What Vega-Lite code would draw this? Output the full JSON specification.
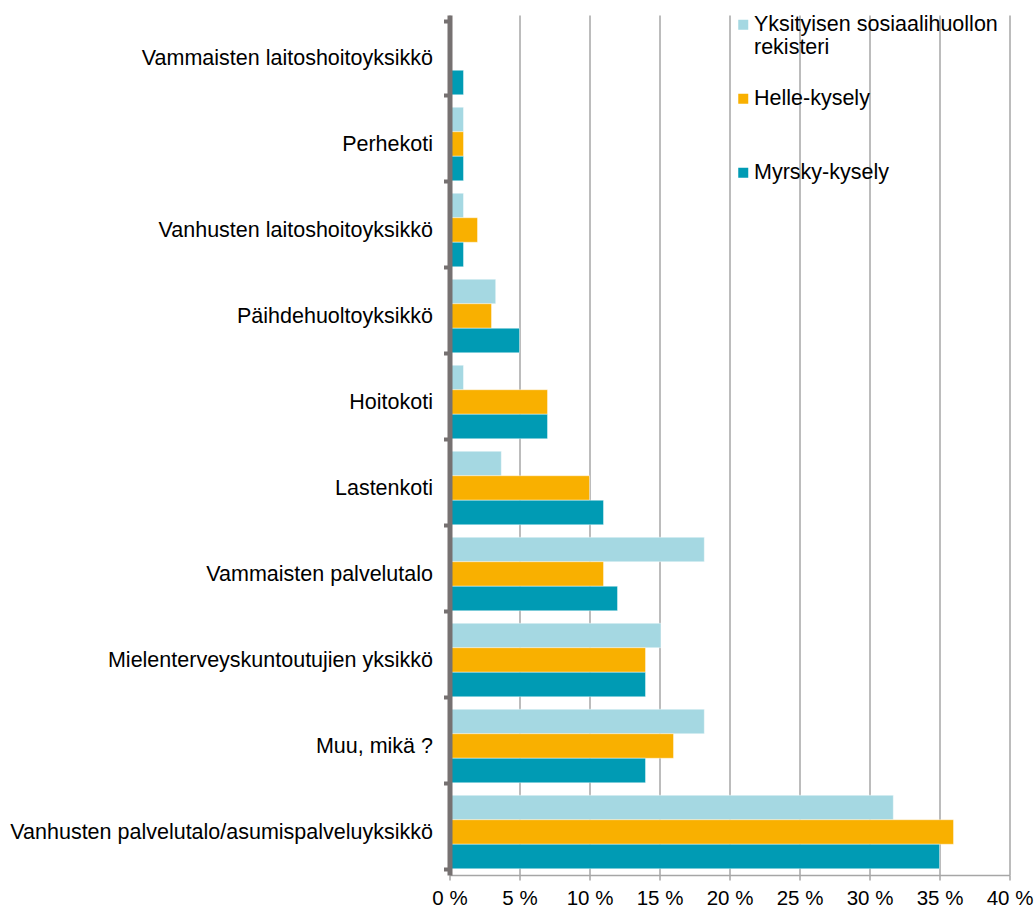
{
  "$schema": "https://vega.github.io/schema/vega-lite/v6.json",
  "autosize": {"type": "none"},
  "padding": {"left": 449.5, "top": 15, "right": 24.5, "bottom": 34},
  "width": 560,
  "height": 860,
  "config": {
    "view": {"stroke": null},
    "font": "Liberation Sans",
    "axis": {"labelFont": "Liberation Sans", "labelColor": "#000000"},
    "legend": {"labelFont": "Liberation Sans"}
  },
  "data": {
    "values": [
      {"yksikko": "Vammaisten laitoshoitoyksikkö", "lahde": "Yksityisen sosiaalihuollon rekisteri", "osuus": 0},
      {"yksikko": "Vammaisten laitoshoitoyksikkö", "lahde": "Helle-kysely", "osuus": 0},
      {"yksikko": "Vammaisten laitoshoitoyksikkö", "lahde": "Myrsky-kysely", "osuus": 1},
      {"yksikko": "Perhekoti", "lahde": "Yksityisen sosiaalihuollon rekisteri", "osuus": 1},
      {"yksikko": "Perhekoti", "lahde": "Helle-kysely", "osuus": 1},
      {"yksikko": "Perhekoti", "lahde": "Myrsky-kysely", "osuus": 1},
      {"yksikko": "Vanhusten laitoshoitoyksikkö", "lahde": "Yksityisen sosiaalihuollon rekisteri", "osuus": 1},
      {"yksikko": "Vanhusten laitoshoitoyksikkö", "lahde": "Helle-kysely", "osuus": 2},
      {"yksikko": "Vanhusten laitoshoitoyksikkö", "lahde": "Myrsky-kysely", "osuus": 1},
      {"yksikko": "Päihdehuoltoyksikkö", "lahde": "Yksityisen sosiaalihuollon rekisteri", "osuus": 3.3},
      {"yksikko": "Päihdehuoltoyksikkö", "lahde": "Helle-kysely", "osuus": 3},
      {"yksikko": "Päihdehuoltoyksikkö", "lahde": "Myrsky-kysely", "osuus": 5},
      {"yksikko": "Hoitokoti", "lahde": "Yksityisen sosiaalihuollon rekisteri", "osuus": 1},
      {"yksikko": "Hoitokoti", "lahde": "Helle-kysely", "osuus": 7},
      {"yksikko": "Hoitokoti", "lahde": "Myrsky-kysely", "osuus": 7},
      {"yksikko": "Lastenkoti", "lahde": "Yksityisen sosiaalihuollon rekisteri", "osuus": 3.7},
      {"yksikko": "Lastenkoti", "lahde": "Helle-kysely", "osuus": 10},
      {"yksikko": "Lastenkoti", "lahde": "Myrsky-kysely", "osuus": 11},
      {"yksikko": "Vammaisten palvelutalo", "lahde": "Yksityisen sosiaalihuollon rekisteri", "osuus": 18.2},
      {"yksikko": "Vammaisten palvelutalo", "lahde": "Helle-kysely", "osuus": 11},
      {"yksikko": "Vammaisten palvelutalo", "lahde": "Myrsky-kysely", "osuus": 12},
      {"yksikko": "Mielenterveyskuntoutujien yksikkö", "lahde": "Yksityisen sosiaalihuollon rekisteri", "osuus": 15.1},
      {"yksikko": "Mielenterveyskuntoutujien yksikkö", "lahde": "Helle-kysely", "osuus": 14},
      {"yksikko": "Mielenterveyskuntoutujien yksikkö", "lahde": "Myrsky-kysely", "osuus": 14},
      {"yksikko": "Muu, mikä ?", "lahde": "Yksityisen sosiaalihuollon rekisteri", "osuus": 18.2},
      {"yksikko": "Muu, mikä ?", "lahde": "Helle-kysely", "osuus": 16},
      {"yksikko": "Muu, mikä ?", "lahde": "Myrsky-kysely", "osuus": 14},
      {"yksikko": "Vanhusten palvelutalo/asumispalveluyksikkö", "lahde": "Yksityisen sosiaalihuollon rekisteri", "osuus": 31.7},
      {"yksikko": "Vanhusten palvelutalo/asumispalveluyksikkö", "lahde": "Helle-kysely", "osuus": 36},
      {"yksikko": "Vanhusten palvelutalo/asumispalveluyksikkö", "lahde": "Myrsky-kysely", "osuus": 35}
    ]
  },
  "mark": {"type": "bar", "stroke": "#ffffff", "strokeWidth": 0.6, "strokeOpacity": 0.7},
  "encoding": {
    "y": {
      "field": "yksikko",
      "type": "nominal",
      "sort": null,
      "title": null,
      "scale": {"paddingInner": 0.145, "paddingOuter": 0.0725},
      "axis": {
        "zindex": 1,
        "domainColor": "#767171",
        "domainWidth": 5,
        "tickColor": "#767171",
        "tickWidth": 4,
        "tickSize": 6,
        "tickBand": "extent",
        "labelFontSize": 21.5,
        "labelPadding": 11,
        "labelLimit": 460
      }
    },
    "yOffset": {
      "field": "lahde",
      "type": "nominal",
      "sort": ["Yksityisen sosiaalihuollon rekisteri", "Helle-kysely", "Myrsky-kysely"],
      "scale": {"paddingInner": 0, "paddingOuter": 0}
    },
    "x": {
      "field": "osuus",
      "type": "quantitative",
      "title": null,
      "scale": {"domain": [0, 40], "nice": false},
      "axis": {
        "values": [0, 5, 10, 15, 20, 25, 30, 35, 40],
        "labelExpr": "datum.value + ' %'",
        "labelFontSize": 20.5,
        "labelPadding": 8,
        "labelFlush": false,
        "domain": true,
        "domainColor": "#a6a6a6",
        "domainWidth": 1.5,
        "grid": true,
        "gridColor": "#a6a6a6",
        "gridWidth": 1.5,
        "tickColor": "#a6a6a6",
        "tickWidth": 1.5,
        "tickSize": 5
      }
    },
    "color": {
      "field": "lahde",
      "type": "nominal",
      "sort": ["Yksityisen sosiaalihuollon rekisteri", "Helle-kysely", "Myrsky-kysely"],
      "scale": {
        "domain": ["Yksityisen sosiaalihuollon rekisteri", "Helle-kysely", "Myrsky-kysely"],
        "range": ["#a5d8e2", "#f9b000", "#009bb4"]
      },
      "legend": {
        "title": null,
        "orient": "none",
        "legendX": 283,
        "legendY": -1,
        "symbolType": "square",
        "symbolSize": 100,
        "symbolStrokeWidth": 0,
        "labelFontSize": 21.5,
        "labelColor": "#000000",
        "labelOffset": 0,
        "labelLimit": 300,
        "gridAlign": "all",
        "rowPadding": 28,
        "labelExpr": "datum.label == 'Yksityisen sosiaalihuollon rekisteri' ? ['Yksityisen sosiaalihuollon', 'rekisteri'] : datum.label"
      }
    }
  }
}
